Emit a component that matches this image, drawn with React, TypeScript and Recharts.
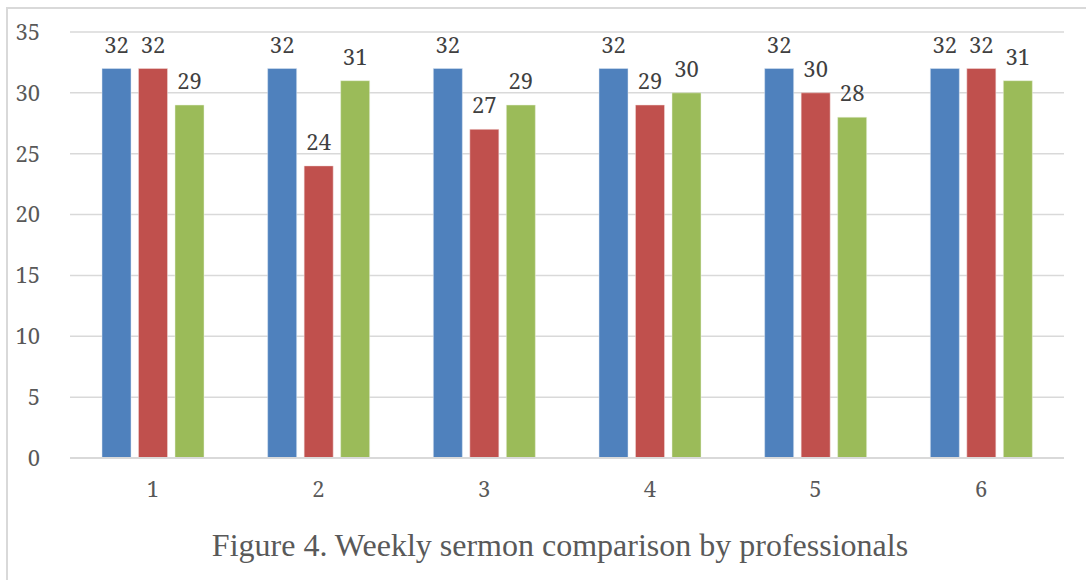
import React from "react";
import {
  BarChart,
  Bar,
  XAxis,
  YAxis,
  CartesianGrid,
  LabelList,
} from "recharts";

// week numbers on the x axis
const weeks = ["1", "2", "3", "4", "5", "6"];
// three professionals, one bar each per week
const seriesA = [32, 32, 32, 32, 32, 32];
const seriesB = [32, 24, 27, 29, 30, 32];
const seriesC = [29, 31, 29, 30, 28, 31];
const yTicks = [0, 5, 10, 15, 20, 25, 30, 35];

const chartData = weeks.map((w, i) => ({
  week: w,
  a: seriesA[i],
  b: seriesB[i],
  c: seriesC[i],
}));

const numFont = '"Noto Serif", "Liberation Serif", serif';
const titleFont = '"Liberation Serif", serif';
const tickStyle = { fill: "#595959", fontSize: 22, fontFamily: numFont };
const labelStyle = { fill: "#404040", fontSize: 22, fontFamily: numFont };

export default function App() {
  return (
    <div
      style={{
        position: "absolute",
        left: 0,
        top: 0,
        width: 1086,
        height: 580,
        overflow: "hidden",
        background: "#fff",
      }}
    >
      {/* chart frame, runs off the right and bottom like the source */}
      <div
        style={{
          position: "absolute",
          left: 6,
          top: 7,
          width: 1100,
          height: 600,
          border: "2px solid #d9d9d9",
        }}
      />
      <div style={{ position: "absolute", left: 0, top: 0 }}>
        <BarChart
          width={1086}
          height={580}
          data={chartData}
          margin={{ top: 32, right: 22, left: 10, bottom: 92 }}
          barSize={29}
          barGap={7.5}
        >
          <CartesianGrid vertical={false} stroke="#d9d9d9" strokeWidth={1.5} />
          <XAxis
            dataKey="week"
            axisLine={{ stroke: "#d9d9d9", strokeWidth: 2 }}
            tickLine={false}
            tick={tickStyle}
            tickMargin={17}
            height={30}
          />
          <YAxis
            domain={[0, 35]}
            ticks={yTicks}
            axisLine={false}
            tickLine={false}
            tick={tickStyle}
            width={60}
            tickMargin={24}
          />
          <Bar dataKey="a" fill="#4f81bd" stroke="#dce6f2" strokeWidth={0.5} isAnimationActive={false}>
            <LabelList dataKey="a" position="top" offset={16} style={labelStyle} />
          </Bar>
          <Bar dataKey="b" fill="#c0504d" stroke="#f2dcdb" strokeWidth={0.5} isAnimationActive={false}>
            <LabelList dataKey="b" position="top" offset={16} style={labelStyle} />
          </Bar>
          <Bar dataKey="c" fill="#9bbb59" stroke="#ebf1de" strokeWidth={0.5} isAnimationActive={false}>
            <LabelList dataKey="c" position="top" offset={16} style={labelStyle} />
          </Bar>
        </BarChart>
      </div>
      <div
        style={{
          position: "absolute",
          left: 0,
          width: 1120,
          top: 525,
          textAlign: "center",
          fontFamily: titleFont,
          fontSize: 32,
          color: "#595959",
          lineHeight: "40px",
        }}
      >
        Figure 4. Weekly sermon comparison by professionals
      </div>
    </div>
  );
}
